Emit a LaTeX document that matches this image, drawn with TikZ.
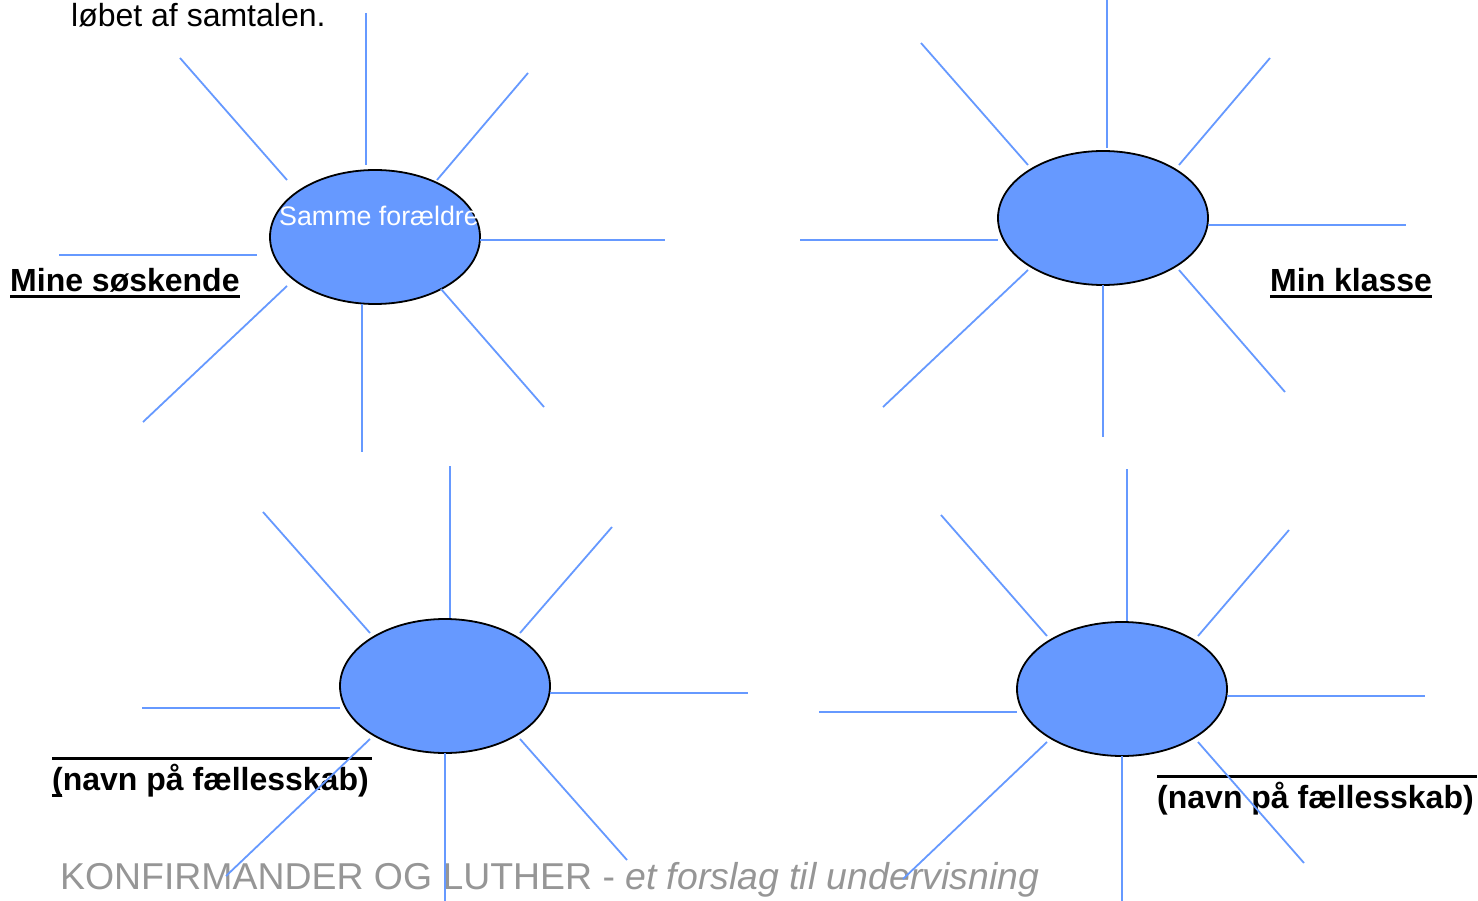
\documentclass[tikz,border=0pt]{standalone}
\usepackage{fontspec}
\setmainfont{Liberation Sans}
\usetikzlibrary{shapes.geometric}
\definecolor{blobblue}{RGB}{102,153,255}
\definecolor{footgray}{RGB}{150,150,150}
\tikzset{
  blob/.style={draw=black,ellipse,line width=1.8pt,fill=blobblue,minimum width=210pt,minimum height=134pt,inner sep=0pt},
  ray/.style={draw=blobblue,line width=1.8pt},
  txt/.style={anchor=base west,inner sep=0pt},
  bar/.style={draw=black,line width=3pt}
}
\begin{document}
\begin{tikzpicture}[x=1pt,y=-1pt]
 \useasboundingbox (0,0) rectangle (1478,901);

 % texts
 \node[txt,font=\fontsize{32}{38}\selectfont](top) at (71,27){løbet af samtalen.};
 \node[txt,font=\fontsize{32}{38}\selectfont\bfseries](mine) at (10,292){Mine søskende};
 \node[txt,font=\fontsize{32}{38}\selectfont\bfseries](klasse) at (1270,292){Min klasse};
 \node[txt,font=\fontsize{32}{38}\selectfont\bfseries](navnA) at (52,790){(navn på fællesskab)};
 \node[txt,font=\fontsize{32}{38}\selectfont\bfseries](navnB) at (1157,808){(navn på fællesskab)};
 \node[txt,font=\fontsize{37.4}{44}\selectfont,text=footgray](foot) at (60,889){KONFIRMANDER OG LUTHER - \textit{et forslag til undervisning}};

 \draw [bar] ([yshift=-5pt]mine.base west) -- ([yshift=-5pt]mine.base east);
 \draw [bar] ([yshift=-5pt]klasse.base west) -- ([yshift=-5pt]klasse.base east);
 \draw [bar] ([yshift=32pt]navnA.base west) -- ++(320,0);
 \draw [bar] ([yshift=-5pt]navnA.base west) -- ++(10,0);
 \draw [bar] ([yshift=32pt]navnB.base west) -- ++(320,0);

 % ellipses
 \node[blob](1) at (375,237){};
 \node[blob](2) at (1103,218){};
 \node[blob](3) at (445,686){};
 \node[blob](4) at (1122,689){};
 \node[txt,font=\fontsize{26.8}{32}\selectfont,text=white](same) at (279,226){Samme forældre};

 % rays 1
 \draw [ray] (366,13) -- (366,165);
 \draw [ray] (180,58) -- (287,180);
 \draw [ray] (528,73) -- (437,180);
 \draw [ray] (59,255) -- (257,255);
 \draw [ray] (480,240) -- (665,240);
 \draw [ray] (287,286) -- (143,422);
 \draw [ray] (362,304) -- (362,452);
 \draw [ray] (441,289) -- (544,407);

 % rays 2
 \draw [ray] (1107,0) -- (1107,148);
 \draw [ray] (921,43) -- (1028,165);
 \draw [ray] (1270,58) -- (1179,165);
 \draw [ray] (800,240) -- (998,240);
 \draw [ray] (1208,225) -- (1406,225);
 \draw [ray] (1028,270) -- (883,407);
 \draw [ray] (1103,285) -- (1103,437);
 \draw [ray] (1179,270) -- (1285,392);

 % rays 3
 \draw [ray] (450,466) -- (450,618);
 \draw [ray] (263,512) -- (370,633);
 \draw [ray] (612,527) -- (520,633);
 \draw [ray] (142,708) -- (340,708);
 \draw [ray] (550,693) -- (748,693);
 \draw [ray] (370,739) -- (226,876);
 \draw [ray] (445,753) -- (445,901);
 \draw [ray] (520,739) -- (627,860);

 % rays 4
 \draw [ray] (1127,469) -- (1127,621);
 \draw [ray] (941,515) -- (1047,636);
 \draw [ray] (1289,530) -- (1198,636);
 \draw [ray] (819,712) -- (1017,712);
 \draw [ray] (1227,696) -- (1425,696);
 \draw [ray] (1047,742) -- (903,879);
 \draw [ray] (1122,756) -- (1122,901);
 \draw [ray] (1198,742) -- (1304,863);

\end{tikzpicture}
\end{document}
